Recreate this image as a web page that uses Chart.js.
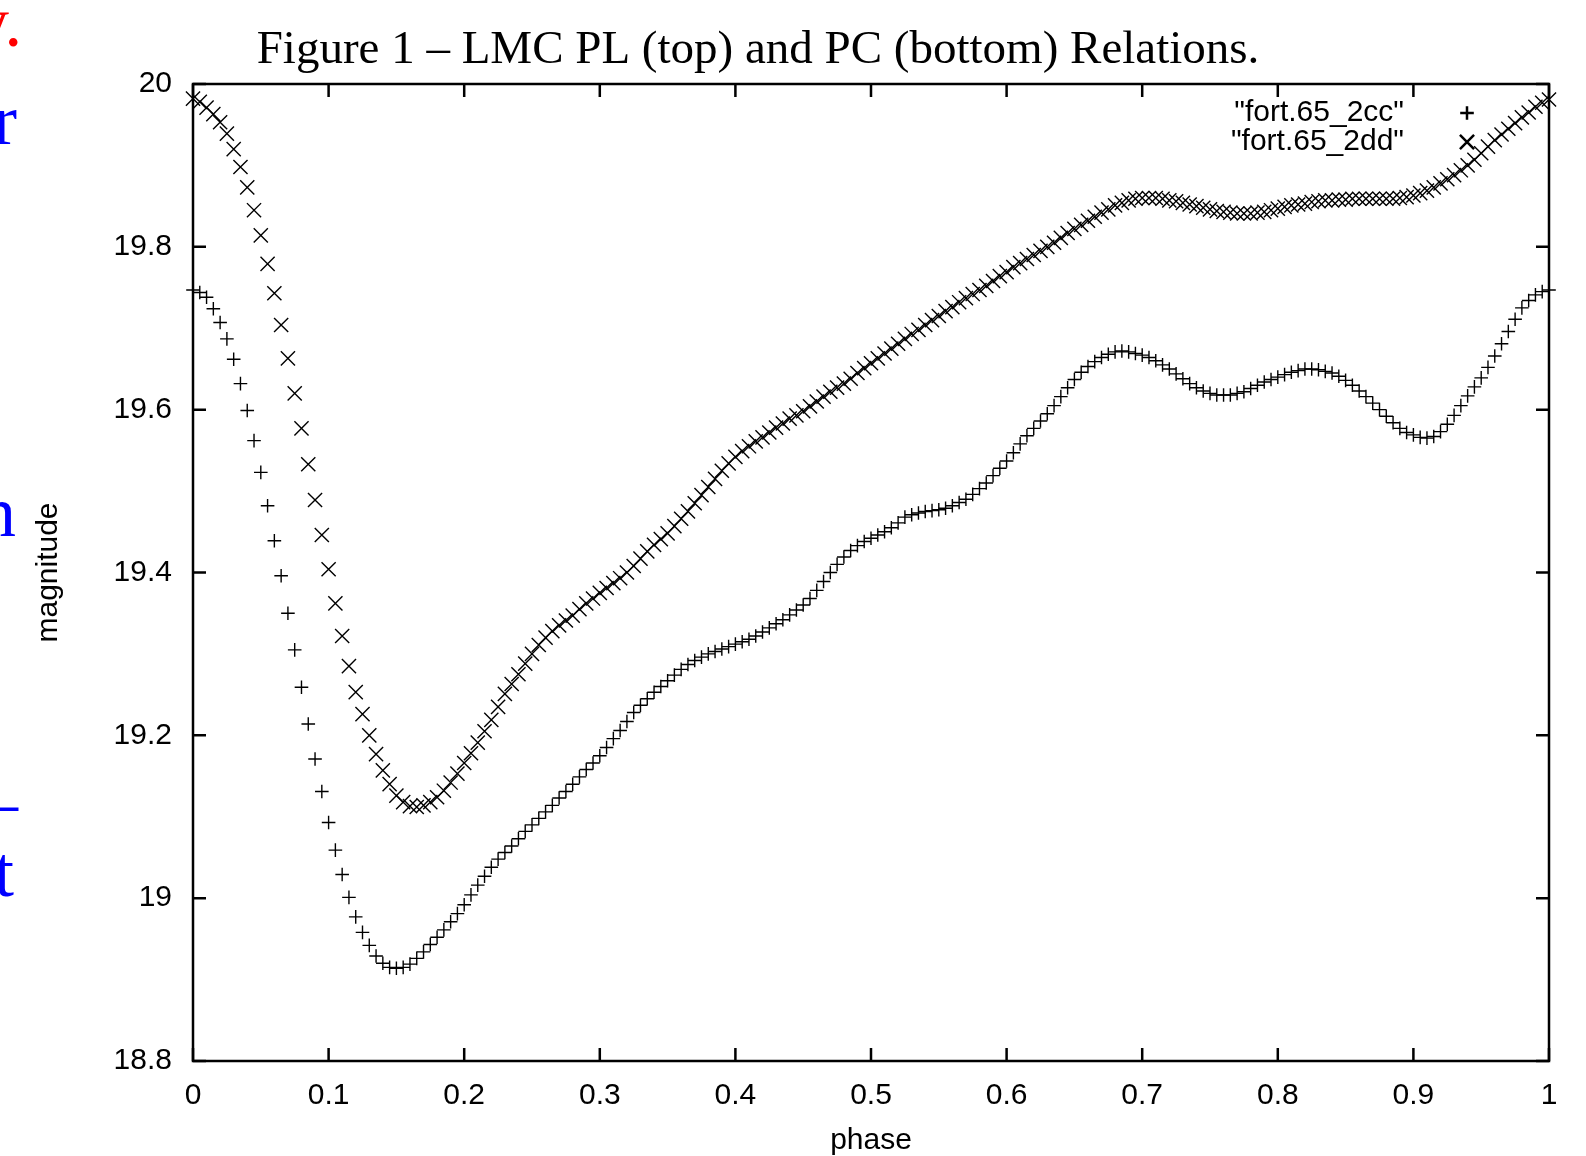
<!DOCTYPE html>
<html>
<head>
<meta charset="utf-8">
<script src="https://cdn.jsdelivr.net/npm/chart.js@4.4.1/dist/chart.umd.min.js"></script>
<style>
  html, body { margin: 0; padding: 0; background: #fff; overflow: hidden; }
  #wrap { position: relative; width: 1586px; height: 1156px; }
  .edge { position: absolute; font-family: "Liberation Serif", serif; font-size: 72px; line-height: 1; white-space: nowrap; }
</style>
</head>
<body>
<div id="wrap">
  <canvas id="chart" width="1586" height="1156"></canvas>
  <span class="edge" style="left:-27px; top:-14px; color:#f00;">y.</span>
  <span class="edge" style="left:-7px; top:84px; color:#00f;">r</span>
  <span class="edge" style="left:-20px; top:476px; color:#00f;">n</span>
  <span class="edge" style="left:-18px; top:766px; color:#00f;">–</span>
  <span class="edge" style="left:-6px; top:836px; color:#00f;">t</span>
</div>
<script>
const phase = [
  0,0.005,0.01,0.015,0.02,0.025,0.03,0.035,0.04,0.045,
  0.05,0.055,0.06,0.065,0.07,0.075,0.08,0.085,0.09,0.095,
  0.1,0.105,0.11,0.115,0.12,0.125,0.13,0.135,0.14,0.145,
  0.15,0.155,0.16,0.165,0.17,0.175,0.18,0.185,0.19,0.195,
  0.2,0.205,0.21,0.215,0.22,0.225,0.23,0.235,0.24,0.245,
  0.25,0.255,0.26,0.265,0.27,0.275,0.28,0.285,0.29,0.295,
  0.3,0.305,0.31,0.315,0.32,0.325,0.33,0.335,0.34,0.345,
  0.35,0.355,0.36,0.365,0.37,0.375,0.38,0.385,0.39,0.395,
  0.4,0.405,0.41,0.415,0.42,0.425,0.43,0.435,0.44,0.445,
  0.45,0.455,0.46,0.465,0.47,0.475,0.48,0.485,0.49,0.495,
  0.5,0.505,0.51,0.515,0.52,0.525,0.53,0.535,0.54,0.545,
  0.55,0.555,0.56,0.565,0.57,0.575,0.58,0.585,0.59,0.595,
  0.6,0.605,0.61,0.615,0.62,0.625,0.63,0.635,0.64,0.645,
  0.65,0.655,0.66,0.665,0.67,0.675,0.68,0.685,0.69,0.695,
  0.7,0.705,0.71,0.715,0.72,0.725,0.73,0.735,0.74,0.745,
  0.75,0.755,0.76,0.765,0.77,0.775,0.78,0.785,0.79,0.795,
  0.8,0.805,0.81,0.815,0.82,0.825,0.83,0.835,0.84,0.845,
  0.85,0.855,0.86,0.865,0.87,0.875,0.88,0.885,0.89,0.895,
  0.9,0.905,0.91,0.915,0.92,0.925,0.93,0.935,0.94,0.945,
  0.95,0.955,0.96,0.965,0.97,0.975,0.98,0.985,0.99,0.995,
  1
];

// "fort.65_2cc" (plus markers, lower curve)
const mag2cc = [
  19.747,19.744,19.738,19.724,19.707,19.687,19.662,19.632,19.599,19.562,
  19.523,19.482,19.439,19.396,19.350,19.305,19.259,19.214,19.171,19.131,
  19.093,19.059,19.029,19.001,18.977,18.958,18.942,18.929,18.920,18.915,
  18.914,18.915,18.919,18.926,18.934,18.943,18.952,18.961,18.971,18.981,
  18.992,19.004,19.016,19.027,19.038,19.048,19.056,19.064,19.073,19.082,
  19.090,19.098,19.106,19.114,19.123,19.131,19.140,19.149,19.158,19.166,
  19.175,19.185,19.196,19.206,19.217,19.228,19.237,19.245,19.253,19.260,
  19.267,19.274,19.281,19.287,19.292,19.296,19.300,19.303,19.306,19.309,
  19.312,19.315,19.318,19.322,19.327,19.332,19.337,19.342,19.348,19.354,
  19.360,19.368,19.378,19.389,19.400,19.410,19.419,19.427,19.433,19.438,
  19.442,19.446,19.450,19.455,19.461,19.468,19.471,19.473,19.475,19.476,
  19.477,19.479,19.482,19.486,19.490,19.496,19.503,19.510,19.519,19.528,
  19.537,19.547,19.558,19.568,19.577,19.586,19.595,19.605,19.616,19.627,
  19.637,19.646,19.653,19.659,19.664,19.668,19.671,19.672,19.671,19.669,
  19.667,19.664,19.660,19.655,19.650,19.644,19.638,19.632,19.627,19.623,
  19.620,19.618,19.618,19.618,19.620,19.622,19.626,19.630,19.634,19.637,
  19.640,19.643,19.646,19.648,19.650,19.650,19.649,19.647,19.645,19.641,
  19.636,19.630,19.623,19.616,19.608,19.600,19.592,19.584,19.577,19.572,
  19.569,19.566,19.565,19.567,19.573,19.582,19.593,19.605,19.617,19.628,
  19.639,19.652,19.666,19.681,19.696,19.711,19.725,19.734,19.741,19.745,
  19.747
];

// "fort.65_2dd" (x markers, upper curve)
const mag2dd = [
  19.982,19.978,19.971,19.963,19.953,19.939,19.920,19.898,19.873,19.845,
  19.814,19.779,19.743,19.704,19.663,19.620,19.577,19.533,19.489,19.446,
  19.404,19.362,19.322,19.285,19.253,19.226,19.200,19.177,19.157,19.140,
  19.126,19.118,19.113,19.112,19.114,19.118,19.124,19.132,19.142,19.153,
  19.166,19.178,19.191,19.205,19.219,19.235,19.251,19.263,19.275,19.288,
  19.300,19.311,19.320,19.328,19.335,19.341,19.347,19.355,19.362,19.368,
  19.375,19.381,19.387,19.393,19.400,19.408,19.417,19.426,19.434,19.441,
  19.448,19.457,19.466,19.475,19.485,19.495,19.505,19.515,19.525,19.534,
  19.542,19.549,19.555,19.561,19.566,19.572,19.578,19.583,19.589,19.593,
  19.598,19.604,19.610,19.616,19.622,19.627,19.632,19.638,19.645,19.651,
  19.657,19.663,19.669,19.675,19.681,19.687,19.693,19.698,19.704,19.710,
  19.715,19.721,19.726,19.732,19.737,19.742,19.747,19.752,19.758,19.764,
  19.769,19.775,19.780,19.785,19.790,19.795,19.800,19.805,19.811,19.817,
  19.822,19.827,19.832,19.837,19.842,19.846,19.851,19.854,19.857,19.859,
  19.860,19.860,19.860,19.859,19.857,19.856,19.854,19.852,19.850,19.848,
  19.846,19.844,19.843,19.842,19.841,19.841,19.841,19.842,19.843,19.845,
  19.847,19.849,19.851,19.852,19.853,19.855,19.856,19.857,19.857,19.858,
  19.858,19.859,19.859,19.859,19.859,19.859,19.859,19.859,19.860,19.861,
  19.863,19.866,19.869,19.873,19.878,19.883,19.888,19.894,19.900,19.907,
  19.915,19.923,19.931,19.938,19.945,19.952,19.959,19.965,19.972,19.977,
  19.981
];

const xTickLabels = ["0", "0.1", "0.2", "0.3", "0.4", "0.5", "0.6", "0.7", "0.8", "0.9", "1"];
const yTickLabels = ["18.8", "19", "19.2", "19.4", "19.6", "19.8", "20"];
const seriesNames = ['"fort.65_2cc"', '"fort.65_2dd"'];
const titleText = "Figure 1 \u2013 LMC PL (top) and PC (bottom) Relations.";

const sans = "'Liberation Sans', Arial, sans-serif";

function toPoints(ys) {
  return ys.map((v, i) => ({ x: phase[i], y: v }));
}

// gnuplot look: closed frame, inward ticks mirrored on all sides, legend top right
const gnuplotFrame = {
  id: "gnuplotFrame",
  afterDraw(chart) {
    const { ctx, chartArea: a, scales } = chart;
    const xs = scales.x, ys = scales.y;
    ctx.save();
    ctx.strokeStyle = "#000";
    ctx.lineWidth = 2.5;
    ctx.strokeRect(a.left, a.top, a.right - a.left, a.bottom - a.top);
    const tick = 13;
    ctx.beginPath();
    xs.ticks.forEach(t => {
      const px = xs.getPixelForValue(t.value);
      ctx.moveTo(px, a.bottom); ctx.lineTo(px, a.bottom - tick);
      ctx.moveTo(px, a.top); ctx.lineTo(px, a.top + tick);
    });
    ys.ticks.forEach(t => {
      const py = ys.getPixelForValue(t.value);
      ctx.moveTo(a.left, py); ctx.lineTo(a.left + tick, py);
      ctx.moveTo(a.right, py); ctx.lineTo(a.right - tick, py);
    });
    ctx.stroke();

    // title
    ctx.fillStyle = "#000";
    ctx.font = "47px 'Liberation Serif', serif";
    ctx.textAlign = "center";
    ctx.textBaseline = "alphabetic";
    ctx.fillText(titleText, 758, 63);

    // key
    ctx.font = "30px " + sans;
    ctx.textAlign = "right";
    ctx.textBaseline = "middle";
    const keyY = [113, 142];
    chart.data.datasets.forEach((ds, i) => {
      ctx.fillText(ds.label, 1404, keyY[i]);
      Chart.helpers.drawPoint(ctx, {
        pointStyle: ds.pointStyle,
        radius: ds.pointRadius,
        borderWidth: ds.pointBorderWidth
      }, 1467, keyY[i]);
    });
    ctx.restore();
  }
};

const config = {
  type: "scatter",
  data: {
    datasets: [
      {
        label: seriesNames[0],
        data: toPoints(mag2cc),
        pointStyle: "cross",
        pointRadius: 6.8,
        pointBorderWidth: 1.4,
        borderColor: "#000",
        backgroundColor: "#000",
        clip: false
      },
      {
        label: seriesNames[1],
        data: toPoints(mag2dd),
        pointStyle: "crossRot",
        pointRadius: 10,
        pointBorderWidth: 1.4,
        borderColor: "#000",
        backgroundColor: "#000",
        clip: false
      }
    ]
  },
  options: {
    responsive: false,
    animation: false,
    events: [],
    layout: { padding: { left: 0, right: 37, top: 84, bottom: 0 } },
    plugins: {
      legend: { display: false },
      title: { display: false },
      tooltip: { enabled: false }
    },
    scales: {
      x: {
        type: "linear",
        min: 0,
        max: 1,
        grid: { display: false, drawTicks: false },
        border: { display: false },
        ticks: {
          stepSize: 0.1,
          autoSkip: false,
          maxRotation: 0,
          padding: 17,
          color: "#000",
          font: { family: sans, size: 30 },
          callback: (v, i) => xTickLabels[i]
        },
        title: {
          display: true,
          text: "phase",
          color: "#000",
          font: { family: sans, size: 30 },
          padding: { top: 0, bottom: -3 }
        },
        afterFit(scale) { scale.height = 95; }
      },
      y: {
        type: "linear",
        min: 18.8,
        max: 20,
        grid: { display: false, drawTicks: false },
        border: { display: false },
        ticks: {
          stepSize: 0.2,
          padding: 21,
          color: "#000",
          font: { family: sans, size: 30 },
          callback: (v, i) => yTickLabels[i]
        },
        title: {
          display: true,
          text: "magnitude",
          color: "#000",
          font: { family: sans, size: 30 },
          padding: { top: 31, bottom: 0 }
        },
        afterFit(scale) { scale.width = 193; }
      }
    }
  },
  plugins: [gnuplotFrame]
};

new Chart(document.getElementById("chart"), config);
</script>
</body>
</html>
